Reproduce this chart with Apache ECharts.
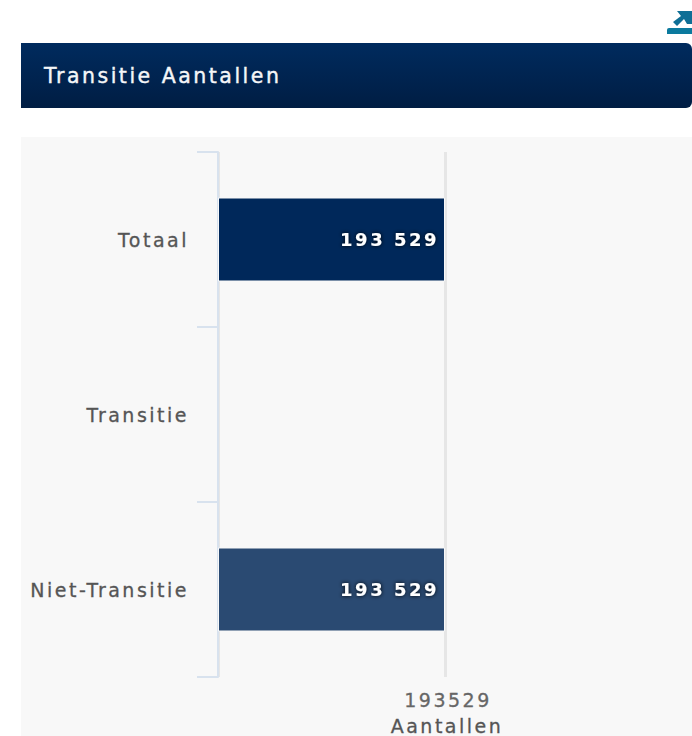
<!doctype html>
<html lang="en">
<head>
    <meta charset="UTF-8">
    <script src="https://cdn.jsdelivr.net/npm/echarts@6/dist/echarts.min.js"></script>
    <title>Transitie Aantallen</title>
    <style>
        html, body { margin: 0; padding: 0; background: #fff; }
        /* reference text is spaced out wide */
        #transitie text { letter-spacing: 2.5px; }
    </style>
</head>
<body>
<div id="transitie" style="width: 692px;height:736px;"></div>
<script>
    var chartTitle = 'Transitie Aantallen';
    var axisName = 'Aantallen';
    var categories = ['Totaal', 'Transitie', 'Niet-Transitie'];
    var values = [193529, null, 193529];
    var barColors = ['#00285a', '#2a4a72', '#2a4a72'];
    var axisMax = 193529;

    var myChart = echarts.init(document.getElementById('transitie'), null, { renderer: 'svg' });

    // 193529 -> 193 529
    function withSpace(v) {
        return String(v).replace(/\B(?=(\d{3})+$)/g, ' ');
    }

    var option = {
        backgroundColor: '#fff',
        animation: false,
        textStyle: { fontFamily: 'DejaVu Sans' },
        title: {
            text: chartTitle,
            left: 44,
            top: 65,
            padding: 0,
            textStyle: {
                color: '#f4f6f8', fontSize: 20.5, fontWeight: 'normal', fontFamily: 'DejaVu Sans',
                textBorderColor: '#f4f6f8', textBorderWidth: 0.4
            }
        },
        graphic: [
            // page furniture round the chart
            { type: 'rect', z: -10, shape: { x: 21, y: 137, width: 671, height: 599 }, style: { fill: '#f8f8f8' } },
            {
                type: 'rect', z: -10,
                shape: { x: 21, y: 43, width: 671, height: 65, r: [0, 6, 6, 0] },
                style: {
                    fill: new echarts.graphic.LinearGradient(0, 0, 0, 1, [
                        { offset: 0, color: '#002b5e' },
                        { offset: 1, color: '#001d43' }
                    ])
                }
            },
            { type: 'rect', shape: { x: 667, y: 28, width: 25, height: 6, r: [2, 0, 0, 0] }, style: { fill: '#0b7a9e' } },
            {
                type: 'polygon',
                shape: { points: [[677, 11], [692, 11], [692, 24], [687, 24], [684, 19], [677, 26], [673, 22], [681, 16]] },
                style: { fill: '#0f6f96' }
            }
        ],
        grid: { left: 218, top: 152, width: 227, height: 525, outerBoundsMode: 'none' },
        xAxis: {
            type: 'value',
            min: 0,
            max: axisMax,
            interval: axisMax,
            name: axisName,
            nameLocation: 'middle',
            nameGap: 39,
            nameTextStyle: {
                color: '#555', fontSize: 19, padding: [0, 0, 0, 231],
                textBorderColor: '#555', textBorderWidth: 0.3
            },
            axisLine: { show: false },
            axisTick: { show: false },
            axisLabel: {
                showMinLabel: false,
                color: '#666',
                fontSize: 19,
                margin: 13,
                padding: [0, 0, 0, 6],
                textBorderColor: '#666',
                textBorderWidth: 0.3,
                formatter: function (v) { return String(v); }
            },
            splitLine: { show: true, lineStyle: { color: '#e6e6e6', width: 3 } }
        },
        yAxis: {
            type: 'category',
            inverse: true,
            data: categories,
            axisLine: { show: true, lineStyle: { color: '#d8e2ee', width: 2 } },
            axisTick: { show: true, length: 21, lineStyle: { color: '#d8e2ee', width: 2 } },
            axisLabel: { color: '#555', fontSize: 19, margin: 29, textBorderColor: '#555', textBorderWidth: 0.3 }
        },
        series: [
            {
                type: 'bar',
                barWidth: 84,
                data: values.map(function (v, i) {
                    return { value: v, itemStyle: { color: barColors[i], borderColor: '#f8f8f8', borderWidth: 1 } };
                }),
                label: {
                    show: true,
                    position: 'insideRight',
                    distance: 6,
                    color: '#fff',
                    fontSize: 18,
                    fontWeight: 'bold',
                    textShadowColor: '#000',
                    textShadowBlur: 4,
                    formatter: function (p) { return withSpace(p.value); }
                }
            }
        ]
    };

    myChart.setOption(option);
</script>
</body>
</html>
